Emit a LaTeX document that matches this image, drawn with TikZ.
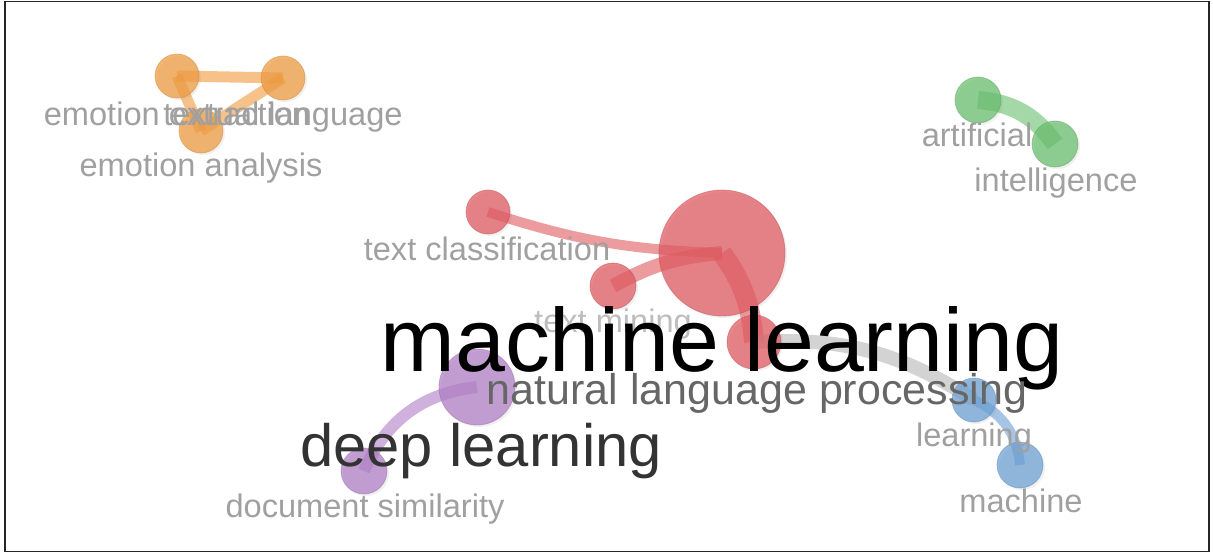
\documentclass[tikz,border=0pt]{standalone}
\usepackage{fontspec}
\setmainfont{Liberation Sans}
\usetikzlibrary{shadows}
\definecolor{Orange}{HTML}{F09A3C}
\definecolor{Green}{HTML}{68BE6C}
\definecolor{Red}{HTML}{E0585E}
\definecolor{Blue}{HTML}{6A9FD4}
\definecolor{Purple}{HTML}{B07CC6}
\definecolor{Link}{HTML}{C8C8C8}
\definecolor{Soft}{HTML}{A0A0A0}
\definecolor{Faint}{HTML}{BDBDBD}
\definecolor{Mid}{HTML}{666666}
\definecolor{Dark}{HTML}{333333}
\pgfdeclarelayer{links}
\pgfsetlayers{links,main}
\tikzset{
  item/.style={circle,draw=#1!85!black,fill=#1,fill opacity=0.72,draw opacity=0.45,inner sep=0pt,line width=0.8pt,
    drop shadow={opacity=0.12,shadow xshift=2pt,shadow yshift=-2pt}},
  link/.style={draw=#1,opacity=0.6,line cap=butt},
  lbl/.style={anchor=base,inner sep=0pt,text=Soft,font=\fontsize{32.6}{36}\selectfont},
}

\begin{document}
\begin{tikzpicture}[x=1pt,y=-1pt]
  \useasboundingbox (0,0) rectangle (1213,553);
  \draw[line width=1.6pt,black!85] (5,1.5) rectangle (1209,551.5);

  % orange cluster
  \node[item=Orange,minimum size=44] (emo) at (177,76) {};
  \node[item=Orange,minimum size=44] (lang) at (283,78) {};
  \node[item=Orange,minimum size=44] (ana) at (201,131) {};
  % green cluster
  \node[item=Green,minimum size=46] (art) at (978,100) {};
  \node[item=Green,minimum size=46] (int) at (1055,144) {};
  % red cluster
  \node[item=Red,minimum size=44] (cls) at (488,212) {};
  \node[item=Red,minimum size=126] (ml) at (722,253) {};
  \node[item=Red,minimum size=46] (mine) at (613,286) {};
  \node[item=Red,minimum size=54] (nlp) at (754,342) {};
  % purple cluster
  \node[item=Purple,minimum size=76] (nlpp) at (477,387) {};
  \node[item=Purple,minimum size=46] (sim) at (364,471) {};
  % blue cluster
  \node[item=Blue,minimum size=44] (lrn) at (974,400) {};
  \node[item=Blue,minimum size=46] (mac) at (1020,465) {};

  \begin{pgfonlayer}{links}
    \draw[link=Orange,line width=11pt] (emo.center) -- (lang.center);
    \draw[link=Orange,line width=11pt] (emo.center) -- (ana.center);
    \draw[link=Orange,line width=11pt] (ana.center) -- (lang.center);
    \draw[link=Green,line width=18pt] (art.center) to[bend left=25] (int.center);
    \draw[link=Red,line width=10pt] (cls.center) to[bend right=8] (ml.center);
    \draw[link=Red,line width=14pt] (mine.center) to[bend left=12] (ml.center);
    \draw[link=Red,line width=20pt] (ml.center) to[bend left=15] (nlp.center);
    \draw[link=Link,line width=14pt,opacity=0.8] (nlp.center) to[bend left=18] (lrn.center);
    \draw[link=Blue,line width=10pt] (lrn.center) to[bend left=30] (mac.center);
    \draw[link=Purple,line width=12pt] (nlpp.center) to[bend right=30] (sim.center);
  \end{pgfonlayer}

  % labels
  \node[lbl] (t-emo) at (177,126) {emotion extraction};
  \node[lbl] (t-lang) at (283,126) {textual language};
  \node[lbl] (t-ana) at (201,177) {emotion analysis};
  \node[lbl] (t-art) at (977,147) {artificial};
  \node[lbl] (t-int) at (1056,192) {intelligence};
  \node[lbl] (t-cls) at (487,261) {text classification};
  \node[lbl,text=Faint] (t-mine) at (613,333) {text mining};
  \node[lbl,text=black,font=\fontsize{89.7}{96}\selectfont] (t-ml) at (722,371) {machine learning};
  \node[lbl,text=Mid,font=\fontsize{43}{48}\selectfont] (t-nlp) at (757,404) {natural language processing};
  \node[lbl,text=Dark,font=\fontsize{59.7}{64}\selectfont] (t-deep) at (481,466) {deep learning};
  \node[lbl] (t-sim) at (365,517) {document similarity};
  \node[lbl] (t-lrn) at (974,446) {learning};
  \node[lbl] (t-mac) at (1021,512) {machine};
\end{tikzpicture}
\end{document}
